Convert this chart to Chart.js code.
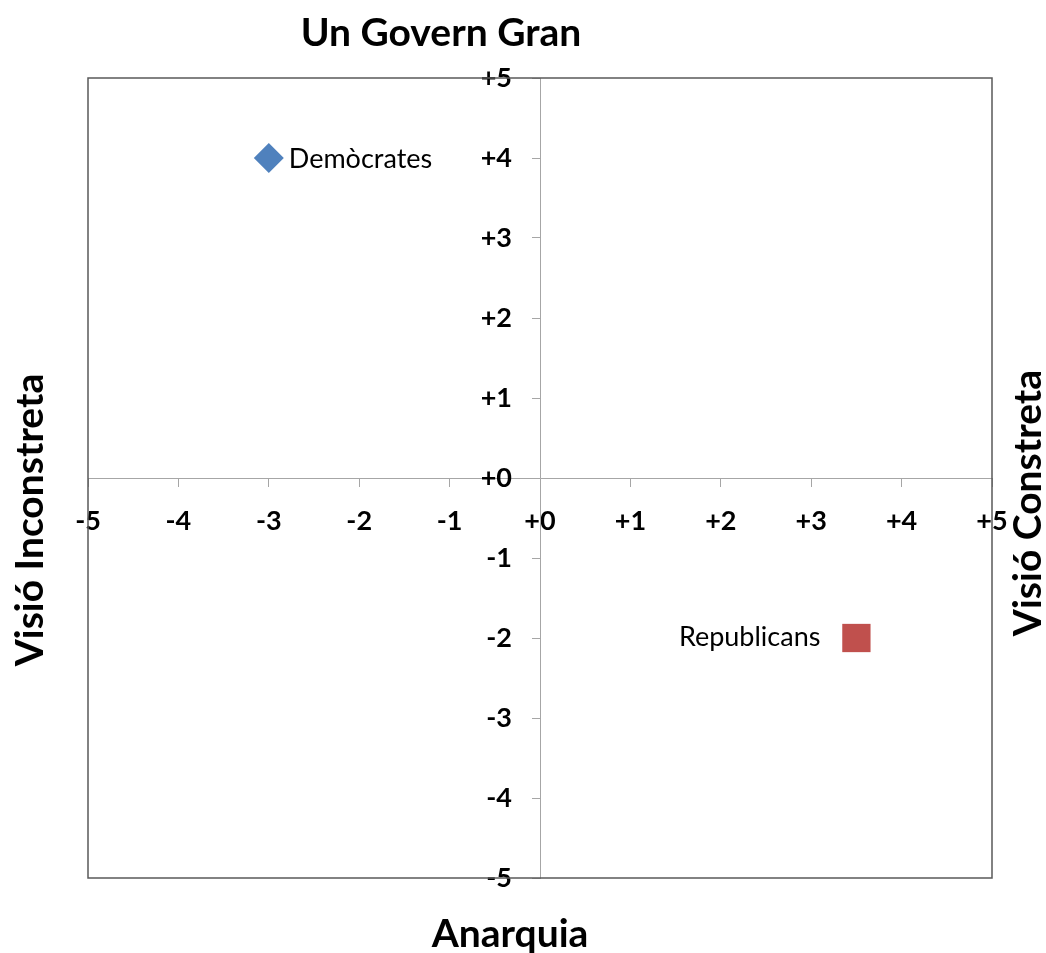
<!DOCTYPE html>
<html>
<head>
<meta charset="utf-8">
<script src="https://cdn.jsdelivr.net/npm/chart.js@4.4.0/dist/chart.umd.min.js"></script>
<style>
  body { margin: 0; background: #fff; }
  #wrap { width: 1046px; height: 953px; position: relative; }
</style>
</head>
<body>
<div id="wrap"><canvas id="chartQuad"></canvas></div>
<script>
// dades llegides del gràfic
const partyNames = ['Demòcrates', 'Republicans'];
const xValues = [-3, 3.5];
const yValues = [4, -2];
const partyColors = ['#4F81BD', '#C0504D'];
const partyShapes = ['rectRot', 'rect'];
const axisMin = -5;
const axisMax = 5;

const titleTop = 'Un Govern Gran';
const titleBottom = 'Anarquia';
const titleLeft = 'Visió Inconstreta';
const titleRight = 'Visió Constreta';

Chart.defaults.font.family = 'Lato';

function signLabel(v) {
  return v >= 0 ? '+' + v : '' + v;
}

const frameAndTitles = {
  id: 'frameAndTitles',
  beforeDatasetsDraw(chart) {
    const { ctx, chartArea: a } = chart;
    ctx.save();
    ctx.strokeStyle = '#595959';
    ctx.lineWidth = 1.5;
    ctx.strokeRect(a.left, a.top, a.right - a.left, a.bottom - a.top);
    ctx.restore();
  },
  afterDraw(chart) {
    const { ctx } = chart;
    ctx.save();
    ctx.fillStyle = '#000';
    ctx.font = 'bold 39px Lato';
    ctx.textAlign = 'center';
    ctx.textBaseline = 'middle';
    ctx.fillText(titleTop, 441, 33);
    ctx.fillText(titleBottom, 510, 934);

    ctx.save();
    ctx.translate(30, 520);
    ctx.rotate(-Math.PI / 2);
    ctx.fillText(titleLeft, 0, 0);
    ctx.restore();

    ctx.save();
    ctx.translate(1028, 503);
    ctx.rotate(-Math.PI / 2);
    ctx.fillText(titleRight, 0, 0);
    ctx.restore();

    // etiquetes dels punts
    ctx.font = '27px Lato';
    chart.data.datasets.forEach((ds, i) => {
      const pt = chart.getDatasetMeta(i).data[0];
      if (!pt) return;
      if (xValues[i] < 0) {
        ctx.textAlign = 'left';
        ctx.fillText(ds.label, pt.x + 20, pt.y + 1);
      } else {
        ctx.textAlign = 'right';
        ctx.fillText(ds.label, pt.x - 36, pt.y - 1);
      }
    });
    ctx.restore();
  }
};

const chartQuad = document.getElementById('chartQuad');

new Chart(chartQuad, {
  type: 'scatter',
  data: {
    datasets: partyNames.map((name, i) => ({
      label: name,
      data: [{ x: xValues[i], y: yValues[i] }],
      pointStyle: partyShapes[i],
      pointRadius: i === 0 ? 15 : 20,
      pointHoverRadius: i === 0 ? 15 : 20,
      backgroundColor: partyColors[i],
      borderColor: partyColors[i],
      borderWidth: 0
    }))
  },
  options: {
    responsive: true,
    maintainAspectRatio: false,
    animation: false,
    layout: { padding: { left: 88, right: 54, top: 78, bottom: 75 } },
    plugins: {
      legend: { display: false },
      tooltip: { enabled: false },
      title: { display: false }
    },
    scales: {
      x: {
        type: 'linear',
        position: 'center',
        min: axisMin,
        max: axisMax,
        ticks: {
          stepSize: 1,
          padding: 19,
          color: '#000',
          font: { size: 27, weight: 'bold' },
          callback: signLabel
        },
        grid: { drawOnChartArea: false, tickLength: 8, color: '#A6A6A6' },
        border: { color: '#A6A6A6', width: 1 }
      },
      y: {
        type: 'linear',
        position: 'center',
        min: axisMin,
        max: axisMax,
        ticks: {
          stepSize: 1,
          padding: 20,
          color: '#000',
          font: { size: 27, weight: 'bold' },
          callback: signLabel
        },
        grid: { drawOnChartArea: false, tickLength: 8, color: '#A6A6A6' },
        border: { color: '#A6A6A6', width: 1 }
      }
    }
  },
  plugins: [frameAndTitles]
});
</script>
</body>
</html>
